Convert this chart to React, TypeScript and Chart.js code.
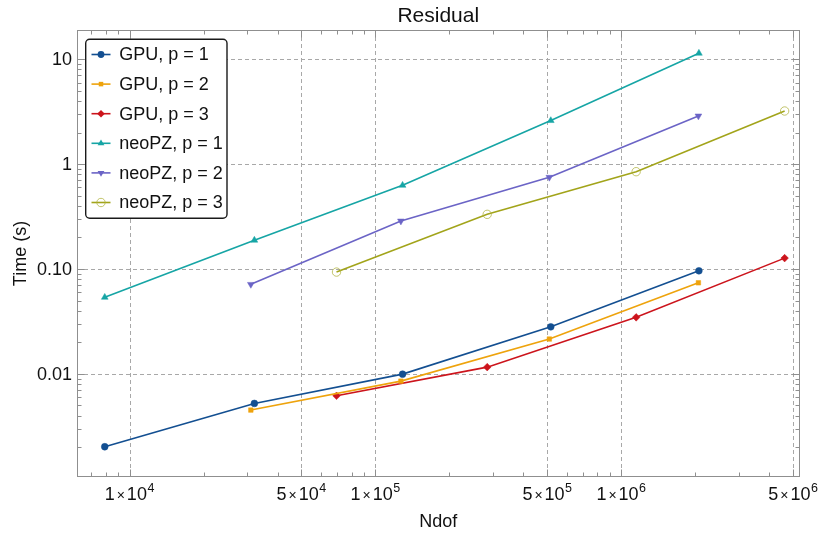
import React, { useEffect, useRef } from 'react';
import { Chart, registerables } from 'chart.js';

Chart.register(...registerables);

// ---- data ----
const ndofP1 = [7930, 32200, 129000, 517000, 2070000];
const ndofP2 = [31150, 127000, 510000, 2060000];
const ndofP3 = [69500, 285000, 1150000, 4620000];

const gpuP1 = [0.00202, 0.00523, 0.00995, 0.0281, 0.0962];
const gpuP2 = [0.00452, 0.00853, 0.0215, 0.0739];
const gpuP3 = [0.00618, 0.0116, 0.0346, 0.127];
const neoP1 = [0.0537, 0.188, 0.628, 2.6, 11.4];
const neoP2 = [0.0714, 0.287, 0.749, 2.88];
const neoP3 = [0.0935, 0.332, 0.847, 3.21];

const seriesLabels = ['GPU, p = 1', 'GPU, p = 2', 'GPU, p = 3', 'neoPZ, p = 1', 'neoPZ, p = 2', 'neoPZ, p = 3'];

const xMajorTicks = [1e4, 5e4, 1e5, 5e5, 1e6, 5e6];
const xTickMantissas = ['1', '5', '1', '5', '1', '5'];
const xTickExponents = ['4', '4', '5', '5', '6', '6'];
const yMajorTicks = [0.01, 0.1, 1, 10];
const yTickLabels = ['0.01', '0.10', '1', '10'];

const xMin = 6115;
const xMax = 5.31e6;
const yMin = 0.00104;
const yMax = 19.0;

const titleText = 'Residual';
const xTitle = 'Ndof';
const yTitle = 'Time (s)';

const FONT = "'Liberation Sans', Arial, Helvetica, sans-serif";

type Style = { color: string; point: string; rotation: number; radius: number; hollow?: boolean; pointColor?: string };
const styles: Style[] = [
  { color: '#134f91', point: 'circle', rotation: 0, radius: 3.4 },
  { color: '#eea30c', point: 'rect', rotation: 0, radius: 3.2 },
  { color: '#cc141c', point: 'rectRot', rotation: 0, radius: 3.8 },
  { color: '#16a5a5', point: 'triangle', rotation: 0, radius: 3.9 },
  { color: '#6b64c6', point: 'triangle', rotation: 180, radius: 3.9 },
  { color: '#a2a41a', point: 'circle', rotation: 0, radius: 4.2, hollow: true, pointColor: 'rgba(175,178,60,0.75)' },
];

function minorValues(lo: number, hi: number, majors: number[]): number[] {
  const out: number[] = [];
  for (let e = Math.floor(Math.log10(lo)) - 1; e <= Math.ceil(Math.log10(hi)); e++) {
    for (let m = 1; m <= 9; m++) {
      const v = m * Math.pow(10, e);
      if (v >= lo && v <= hi && !majors.some((t) => Math.abs(t - v) / v < 1e-9)) out.push(v);
    }
  }
  return out;
}

function drawMarker(ctx: CanvasRenderingContext2D, s: Style, x: number, y: number) {
  const r = s.radius;
  ctx.beginPath();
  if (s.point === 'circle') {
    ctx.arc(x, y, r, 0, Math.PI * 2);
  } else if (s.point === 'rect') {
    const h = r * Math.SQRT1_2;
    ctx.rect(x - h, y - h, 2 * h, 2 * h);
  } else if (s.point === 'rectRot') {
    ctx.moveTo(x, y - r);
    ctx.lineTo(x + r, y);
    ctx.lineTo(x, y + r);
    ctx.lineTo(x - r, y);
    ctx.closePath();
  } else if (s.point === 'triangle') {
    const rot = (s.rotation * Math.PI) / 180;
    for (let k = 0; k < 3; k++) {
      const a = rot - Math.PI / 2 + (k * 2 * Math.PI) / 3;
      const px = x + Math.cos(a) * r;
      const py = y + Math.sin(a) * r;
      if (k === 0) ctx.moveTo(px, py);
      else ctx.lineTo(px, py);
    }
    ctx.closePath();
  }
  if (s.hollow) {
    ctx.strokeStyle = s.pointColor || s.color;
    ctx.lineWidth = 1;
    ctx.stroke();
  } else {
    ctx.fillStyle = s.color;
    ctx.fill();
  }
}

const decorPlugin = {
  id: 'decor',
  beforeDatasetsDraw(chart: any) {
    const { ctx, chartArea: a, scales } = chart;
    const xs = scales.x;
    const ys = scales.y;
    ctx.save();
    // dashed grid
    ctx.strokeStyle = '#a8a8a8';
    ctx.lineWidth = 1;
    ctx.setLineDash([4, 3]);
    for (const v of xMajorTicks) {
      const px = Math.round(xs.getPixelForValue(v)) + 0.5;
      ctx.beginPath();
      ctx.moveTo(px, a.top);
      ctx.lineTo(px, a.bottom);
      ctx.stroke();
    }
    for (const v of yMajorTicks) {
      const py = Math.round(ys.getPixelForValue(v)) + 0.5;
      ctx.beginPath();
      ctx.moveTo(a.left, py);
      ctx.lineTo(a.right, py);
      ctx.stroke();
    }
    ctx.setLineDash([]);
    // frame
    ctx.strokeStyle = '#8f8f8f';
    ctx.lineWidth = 1;
    const L = Math.round(a.left) + 0.5;
    const R = Math.round(a.right) - 0.5;
    const T = Math.round(a.top) + 0.5;
    const B = Math.round(a.bottom) - 0.5;
    ctx.strokeRect(L, T, R - L, B - T);
    // ticks
    const majorLen = 7;
    const minorLen = 4;
    const xMinor = minorValues(xMin, xMax, xMajorTicks);
    const yMinor = minorValues(yMin, yMax, yMajorTicks);
    const tickX = (v: number, len: number) => {
      const px = Math.round(xs.getPixelForValue(v)) + 0.5;
      ctx.beginPath();
      ctx.moveTo(px, B);
      ctx.lineTo(px, B - len);
      ctx.moveTo(px, T);
      ctx.lineTo(px, T + len);
      ctx.stroke();
    };
    const tickY = (v: number, len: number) => {
      const py = Math.round(ys.getPixelForValue(v)) + 0.5;
      ctx.beginPath();
      ctx.moveTo(L, py);
      ctx.lineTo(L + len, py);
      ctx.moveTo(R, py);
      ctx.lineTo(R - len, py);
      ctx.stroke();
    };
    xMinor.forEach((v) => tickX(v, minorLen));
    xMajorTicks.forEach((v) => tickX(v, majorLen));
    yMinor.forEach((v) => tickY(v, minorLen));
    yMajorTicks.forEach((v) => tickY(v, majorLen));
    ctx.restore();
  },
  afterDraw(chart: any) {
    const { ctx, chartArea: a, scales } = chart;
    const xs = scales.x;
    const ys = scales.y;
    ctx.save();
    ctx.fillStyle = '#111';
    // y tick labels
    ctx.font = `18px ${FONT}`;
    ctx.textAlign = 'right';
    ctx.textBaseline = 'middle';
    yMajorTicks.forEach((v, i) => {
      ctx.fillText(yTickLabels[i], a.left - 5, ys.getPixelForValue(v) + 1);
    });
    // x tick labels: m × 10^e
    ctx.textAlign = 'left';
    ctx.textBaseline = 'alphabetic';
    xMajorTicks.forEach((v, i) => {
      const px = xs.getPixelForValue(v);
      const fMain = `18px ${FONT}`;
      const fTimes = `14px ${FONT}`;
      const fExp = `12.5px ${FONT}`;
      ctx.font = fMain;
      const wm = ctx.measureText(xTickMantissas[i]).width;
      const wt = ctx.measureText('10').width;
      ctx.font = fTimes;
      const wx = ctx.measureText('×').width;
      ctx.font = fExp;
      const we = ctx.measureText(xTickExponents[i]).width;
      const gap = 2;
      const total = wm + gap + wx + gap + wt + 0.5 + we;
      let x0 = px - total / 2;
      const base = 500;
      ctx.font = fMain;
      ctx.fillText(xTickMantissas[i], x0, base);
      x0 += wm + gap;
      ctx.font = fTimes;
      ctx.fillText('×', x0, base - 0.5);
      x0 += wx + gap;
      ctx.font = fMain;
      ctx.fillText('10', x0, base);
      x0 += wt + 0.5;
      ctx.font = fExp;
      ctx.fillText(xTickExponents[i], x0, base - 8);
    });
    // axis titles
    ctx.font = `18px ${FONT}`;
    ctx.textAlign = 'center';
    ctx.textBaseline = 'alphabetic';
    ctx.fillText(xTitle, (a.left + a.right) / 2, 526.5);
    ctx.save();
    ctx.translate(25.5, (a.top + a.bottom) / 2);
    ctx.rotate(-Math.PI / 2);
    ctx.fillText(yTitle, 0, 0);
    ctx.restore();
    // title
    ctx.font = `21px ${FONT}`;
    ctx.fillText(titleText, (a.left + a.right) / 2, 22);

    // legend
    const bx = 85.7;
    const by = 39.3;
    const bw = 141.3;
    const bh = 179;
    ctx.beginPath();
    (ctx as any).roundRect(bx, by, bw, bh, 4);
    ctx.fillStyle = '#fff';
    ctx.fill();
    ctx.strokeStyle = '#1a1a1a';
    ctx.lineWidth = 1.4;
    ctx.stroke();
    chart.data.datasets.forEach((ds: any, i: number) => {
      const s = styles[i];
      const cy = 54.5 + i * 29.6;
      ctx.strokeStyle = s.color;
      ctx.lineWidth = 1.6;
      ctx.beginPath();
      ctx.moveTo(91.5, cy);
      ctx.lineTo(110.5, cy);
      ctx.stroke();
      drawMarker(ctx, s, 101, cy);
      ctx.fillStyle = '#111';
      ctx.font = `18px ${FONT}`;
      ctx.textAlign = 'left';
      ctx.textBaseline = 'middle';
      ctx.fillText(ds.label, 119.3, cy + 1);
    });
    ctx.restore();
  },
};

function pts(xs: number[], ys: number[]) {
  return xs.map((x, i) => ({ x, y: ys[i] }));
}

export default function App() {
  const ref = useRef<HTMLCanvasElement | null>(null);
  useEffect(() => {
    if (!ref.current) return;
    const seriesX = [ndofP1, ndofP2, ndofP3, ndofP1, ndofP2, ndofP3];
    const seriesY = [gpuP1, gpuP2, gpuP3, neoP1, neoP2, neoP3];
    const datasets = seriesLabels.map((label, i) => {
      const s = styles[i];
      return {
        label,
        data: pts(seriesX[i], seriesY[i]),
        borderColor: s.color,
        backgroundColor: s.hollow ? 'rgba(0,0,0,0)' : s.color,
        borderWidth: 1.6,
        pointStyle: s.point,
        pointRotation: s.rotation,
        pointRadius: s.radius,
        pointBorderWidth: s.hollow ? 1 : 0.5,
        pointBorderColor: s.hollow ? s.pointColor : s.color,
        pointBackgroundColor: s.hollow ? 'rgba(0,0,0,0)' : s.color,
        tension: 0,
        showLine: true,
        clip: false,
      };
    });
    const chart = new Chart(ref.current, {
      type: 'line',
      data: { datasets } as any,
      options: {
        responsive: false,
        devicePixelRatio: 1,
        animation: false,
        layout: { padding: { left: 0, right: 21.5, top: 30, bottom: 0 } },
        plugins: { legend: { display: false }, title: { display: false }, tooltip: { enabled: false } },
        scales: {
          x: {
            type: 'logarithmic',
            position: 'bottom',
            min: xMin,
            max: xMax,
            bounds: 'data',
            grid: { display: false },
            border: { display: false },
            ticks: { display: false },
            afterFit: (s: any) => {
              s.height = 56;
            },
          },
          y: {
            type: 'logarithmic',
            position: 'left',
            min: yMin,
            max: yMax,
            bounds: 'data',
            grid: { display: false },
            border: { display: false },
            ticks: { display: false },
            afterFit: (s: any) => {
              s.width = 77;
            },
          },
        },
      } as any,
      plugins: [decorPlugin],
    });
    return () => chart.destroy();
  }, []);
  return (
    <div style={{ position: 'absolute', left: 0, top: 0, width: 821, height: 533, background: '#fff' }}>
      <canvas ref={ref} width={821} height={533} style={{ display: 'block', width: 821, height: 533 }} />
    </div>
  );
}
